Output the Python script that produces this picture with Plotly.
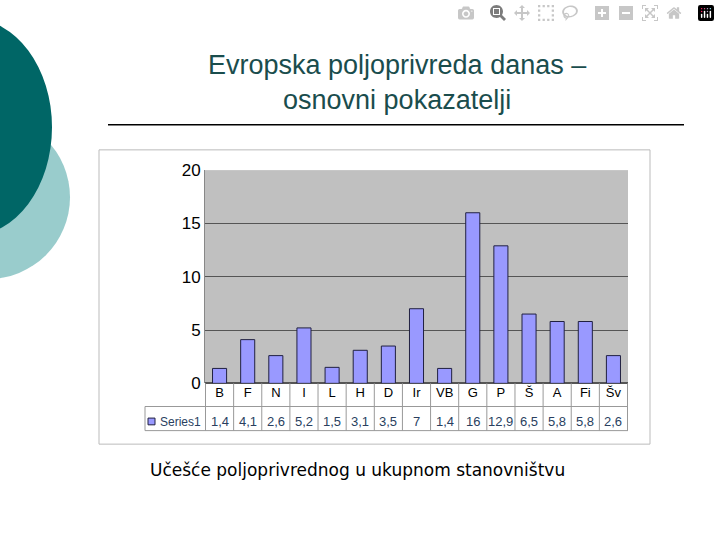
import plotly.graph_objects as go

categories = ["B","F","N","I","L","H","D","Ir","VB","G","P","Š","A","Fi","Šv"]
values = [1.4,4.1,2.6,5.2,1.5,3.1,3.5,7,1.4,16,12.9,6.5,5.8,5.8,2.6]
value_labels = ["1,4","4,1","2,6","5,2","1,5","3,1","3,5","7","1,4","16","12,9","6,5","5,8","5,8","2,6"]
y_ticks = [0,5,10,15,20]

W, H = 720, 540
def px(x): return x / W
def py(y): return 1 - y / H

fig = go.Figure()
fig.add_bar(x=categories, y=values, marker=dict(color="#9999FF", line=dict(color="#202040", width=1)), width=0.5)

shapes = [
    dict(type="circle", xref="paper", yref="paper", x0=px(-95), x1=px(70), y0=py(280), y1=py(110), fillcolor="#99CCCC", line_width=0, layer="below"),
    dict(type="circle", xref="paper", yref="paper", x0=px(-110), x1=px(52), y0=py(235), y1=py(10), fillcolor="#006666", line_width=0, layer="below"),
    dict(type="line", xref="paper", yref="paper", x0=px(108), x1=px(684), y0=py(120), y1=py(120), line=dict(color="black", width=1.5)),
    dict(type="rect", xref="paper", yref="paper", x0=px(99), x1=px(650), y0=py(146), y1=py(451), line=dict(color="#BBBBBB", width=1), layer="below"),
]
tx0, tx1 = px(145), px(628)
for yy in (412, 437):
    shapes.append(dict(type="line", xref="paper", yref="paper", x0=tx0, x1=tx1, y0=py(yy), y1=py(yy), line=dict(color="#999999", width=1)))
shapes.append(dict(type="line", xref="paper", yref="paper", x0=tx0, x1=tx0, y0=py(412), y1=py(437), line=dict(color="#999999", width=1)))
for i in range(len(categories) + 1):
    shapes.append(dict(type="line", xref="x", yref="paper", x0=i - 0.5, x1=i - 0.5, y0=py(388), y1=py(437), line=dict(color="#999999", width=1)))

annotations = [
    dict(text="Evropska poljoprivreda danas –<br>osnovni pokazatelji", xref="paper", yref="paper", x=px(397), y=py(76), showarrow=False, font=dict(size=27, color="#1A4D4D", family="Liberation Sans"), xanchor="center", yanchor="middle"),
    dict(text="Učešće poljoprivrednog u ukupnom stanovništvu", xref="paper", yref="paper", x=px(148), y=py(478), showarrow=False, font=dict(size=17, color="black", family="DejaVu Sans"), xanchor="left", yanchor="middle"),
    dict(text="Series1", xref="paper", yref="paper", x=px(158), y=py(428), showarrow=False, font=dict(size=12, family="Liberation Sans"), xanchor="left", yanchor="middle"),
]
shapes.append(dict(type="rect", xref="paper", yref="paper", x0=px(148), x1=px(155), y0=py(431), y1=py(424), fillcolor="#9999FF", line=dict(color="#202040", width=1)))
for c, lab in zip(categories, value_labels):
    annotations.append(dict(text=lab, xref="x", yref="paper", x=c, y=py(428), showarrow=False, font=dict(size=13, family="Liberation Sans"), yanchor="middle"))

fig.update_layout(
    width=W, height=H, margin=dict(l=0, r=0, t=0, b=0),
    paper_bgcolor="white", plot_bgcolor="#C0C0C0", showlegend=False,
    shapes=shapes, annotations=annotations, bargap=0.5,
    xaxis=dict(domain=[px(205), px(628)], tickfont=dict(size=13, family="Liberation Sans", color="black"), showgrid=False, ticks="", fixedrange=True),
    yaxis=dict(domain=[py(388), py(167)], range=[0, 20], tickvals=y_ticks, tickfont=dict(size=17, family="Liberation Sans", color="black"), gridcolor="#555555", showline=True, linecolor="#888888", zeroline=True, zerolinecolor="#555555"),
)
fig.write_html("out.html", config={"responsive": False},
               post_script="document.body.style.margin='0';document.body.style.overflow='hidden';")
